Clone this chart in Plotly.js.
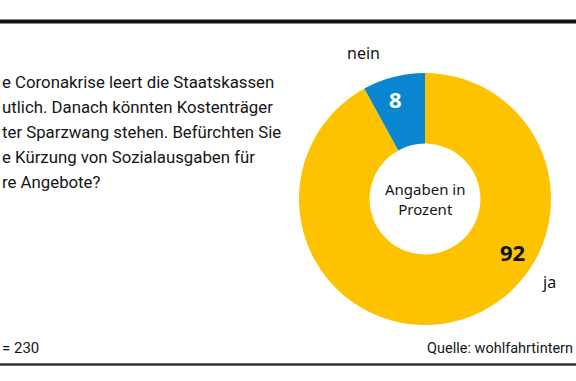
<!DOCTYPE html>
<html>
<head>
<meta charset="utf-8">
<script src="https://cdn.plot.ly/plotly-3.0.1.min.js"></script>
<style>html,body{margin:0;padding:0;background:#fff;}#chart{width:576px;height:381px;}</style>
</head>
<body>
<div id="chart"></div>
<script>
// Data (text as visible in the cropped reference)
const labels = ["ja", "nein"];
const values = [92, 8];
const colors = ["#FDC300", "#0A86D0"];
const questionLines = [
  "e Coronakrise leert die Staatskassen",
  "utlich. Danach könnten Kostenträger",
  "ter Sparzwang stehen. Befürchten Sie",
  "e Kürzung von Sozialausgaben für",
  "re Angebote?"
];
const sampleNote = "= 230";
const sourceNote = "Quelle: wohlfahrtintern";
const centerText = "Angaben in<br>Prozent";

const W = 576, H = 381;
const px = v => v / W;
const py = v => (H - v) / H;
const cond = "Roboto, Liberation Sans, sans-serif";
const sans = "Noto Sans, Open Sans, sans-serif";

const annotations = [];
questionLines.forEach((t, i) => {
  annotations.push({
    text: t, xref: "paper", yref: "paper", x: px(0), y: py(82 + i * 25),
    xanchor: "left", yanchor: "middle", showarrow: false, align: "left",
    font: {family: cond, size: 16.8, color: "#151515"}
  });
});
annotations.push({text: sampleNote, xref: "paper", yref: "paper", x: px(0), y: py(348),
  xanchor: "left", yanchor: "middle", showarrow: false, font: {family: cond, size: 15, color: "#151515"}});
annotations.push({text: sourceNote, xref: "paper", yref: "paper", x: px(575), y: py(348),
  xanchor: "right", yanchor: "middle", showarrow: false, font: {family: cond, size: 14.5, color: "#151515"}});
annotations.push({text: labels[1], xref: "paper", yref: "paper", x: px(363), y: py(53),
  xanchor: "center", yanchor: "middle", showarrow: false, font: {family: sans, size: 16, color: "#151515"}});
annotations.push({text: labels[0], xref: "paper", yref: "paper", x: px(549), y: py(282),
  xanchor: "center", yanchor: "middle", showarrow: false, font: {family: sans, size: 16, color: "#151515"}});
annotations.push({text: "<b>" + values[1] + "</b>", xref: "paper", yref: "paper", x: px(395), y: py(99),
  xanchor: "center", yanchor: "middle", showarrow: false, font: {family: sans, size: 22, color: "#ffffff"}});
annotations.push({text: "<b>" + values[0] + "</b>", xref: "paper", yref: "paper", x: px(512), y: py(252),
  xanchor: "center", yanchor: "middle", showarrow: false, font: {family: sans, size: 22, color: "#111111"}});
annotations.push({text: centerText, xref: "paper", yref: "paper", x: px(425), y: py(199),
  xanchor: "center", yanchor: "middle", showarrow: false, align: "center",
  font: {family: sans, size: 15, color: "#151515"}});

const data = [{
  type: "pie",
  labels: labels,
  values: values,
  marker: {colors: colors, line: {width: 0}},
  hole: 0.44,
  sort: false,
  direction: "clockwise",
  rotation: 0,
  textinfo: "none",
  hoverinfo: "label+value",
  showlegend: false,
  domain: {x: [px(299), px(551)], y: [py(325), py(73)]}
}];

const layout = {
  width: W, height: H,
  margin: {l: 0, r: 0, t: 0, b: 0},
  paper_bgcolor: "#ffffff",
  showlegend: false,
  annotations: annotations,
  shapes: [
    {type: "line", xref: "paper", yref: "paper", x0: 0, x1: 1, y0: py(21.5), y1: py(21.5),
     line: {color: "#111111", width: 4}},
    {type: "line", xref: "paper", yref: "paper", x0: 0, x1: 1, y0: py(364.5), y1: py(364.5),
     line: {color: "#333333", width: 2.5}}
  ]
};

Plotly.newPlot("chart", data, layout, {displayModeBar: false, staticPlot: true});
</script>
</body>
</html>
